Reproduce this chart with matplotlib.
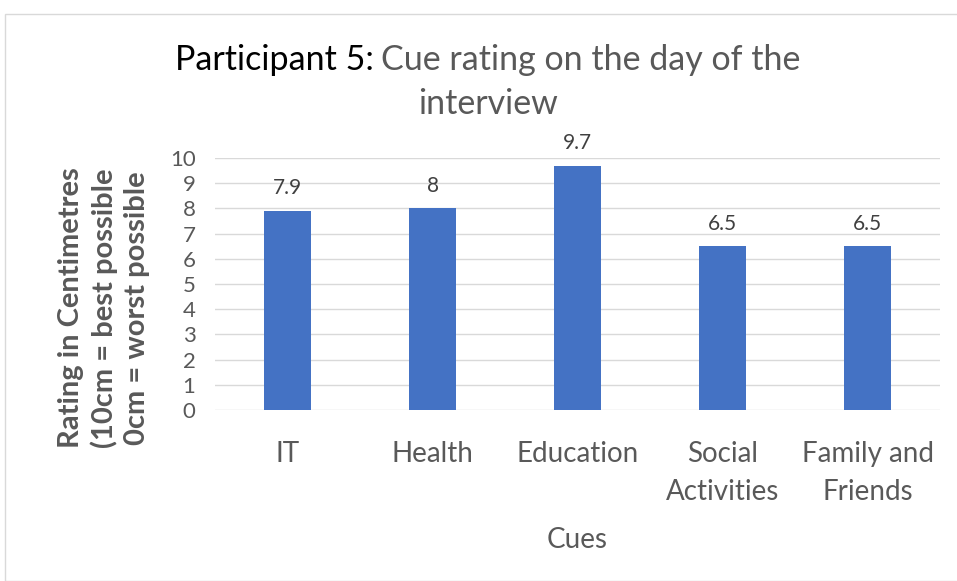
import matplotlib
matplotlib.use("Agg")
import matplotlib.pyplot as plt
from matplotlib.patches import Rectangle

categories = ["IT", "Health", "Education", "Social\nActivities", "Family and\nFriends"]
values = [7.9, 8, 9.7, 6.5, 6.5]
yticks = list(range(0, 11))

plt.rcParams['font.family'] = ['Lato', 'DejaVu Sans']

W, H = 957, 581
fig = plt.figure(figsize=(W/100, H/100), dpi=100)
ax = fig.add_axes([215/W, 1-410/H, 725/W, 252/H])

x = list(range(len(categories)))
bars = ax.bar(x, values, width=0.32, color="#4472C4", zorder=3)
for xi, v in zip(x, values):
    ax.annotate(f"{v:g}", (xi, v), xytext=(0, 9), textcoords="offset points",
                ha="center", va="bottom", fontsize=15, color="#404040")

ax.set_xlim(-0.5, len(categories)-0.5)
ax.set_ylim(0, 10)
ax.set_yticks(yticks)
ax.set_yticklabels([str(t) for t in yticks], fontsize=16, color="#595959")
ax.set_xticks(x)
ax.set_xticklabels(categories, fontsize=20, color="#595959", linespacing=1.6, va="top")
ax.tick_params(axis="both", length=0)
ax.tick_params(axis="x", pad=22)
ax.tick_params(axis="y", pad=14)
ax.grid(axis="y", color="#D9D9D9", linewidth=1, zorder=0)
for s in ax.spines.values():
    s.set_visible(False)

ax.set_xlabel("Cues", fontsize=20, color="#595959", labelpad=16)

fig.text(104/W, 1-308/H, "Rating in Centimetres\n(10cm = best possible\n0cm = worst possible",
         rotation=90, ha="center", va="center", fontsize=21, fontweight="bold",
         color="#595959", linespacing=1.3)

# Title: two colors
t1 = fig.text(175/W, 1-60/H, "Participant 5:", fontsize=24.5, color="black", ha="left", va="center")
fig.canvas.draw()
bb = t1.get_window_extent()
fig.text((bb.x1 + 7)/W, 1-60/H, "Cue rating on the day of the", fontsize=24.5, color="#595959", ha="left", va="center")
fig.text(488/W, 1-104/H, "interview", fontsize=24.5, color="#595959", ha="center", va="center")

fig.patches.append(Rectangle((5/W, 0), 1.0, 1-14/H, transform=fig.transFigure,
                             fill=False, edgecolor="#D9D9D9", linewidth=1))

fig.savefig("out.png", dpi=100)
